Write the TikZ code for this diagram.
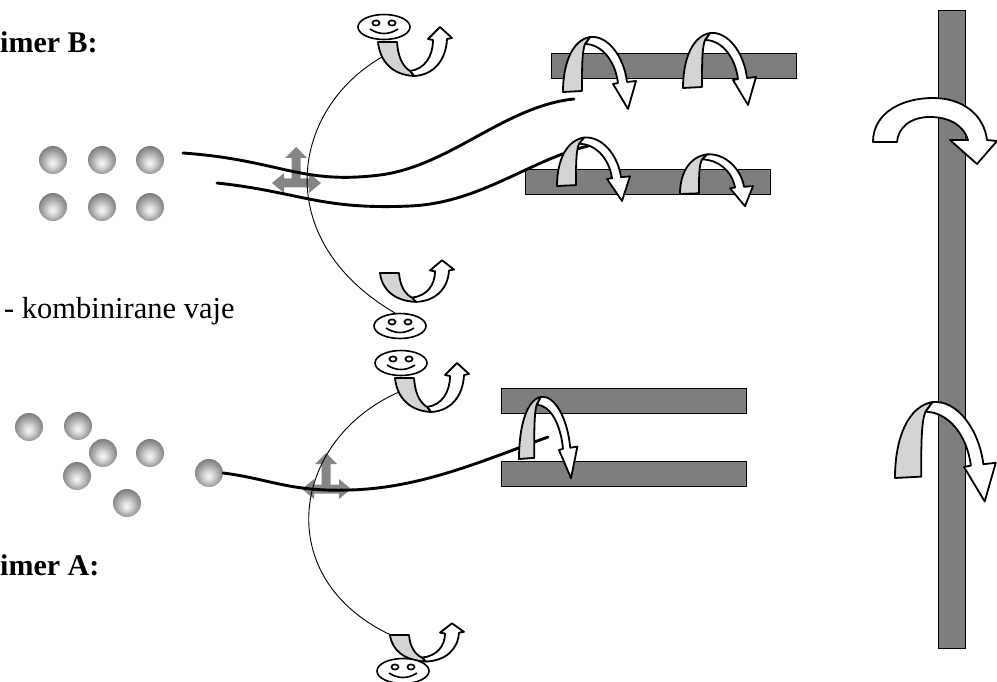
\documentclass[tikz,border=0pt]{standalone}
\usepackage{fontspec}
\setmainfont{Liberation Serif}
\definecolor{barfill}{HTML}{7E7E81}
\definecolor{backface}{HTML}{D3D4D6}
\definecolor{arrowgray}{HTML}{858585}
\definecolor{sph0}{HTML}{F7F7F7}
\definecolor{sph1}{HTML}{DADADA}
\definecolor{sph2}{HTML}{A8A8A8}
\definecolor{sph3}{HTML}{767676}
\pgfdeclareradialshading{sphere}{\pgfpoint{-1bp}{-6bp}}{%
  color(0bp)=(sph0); color(8bp)=(sph1); color(18bp)=(sph2);
  color(29bp)=(sph3); color(50bp)=(sph3)}

\tikzset{
  outline/.style={draw=black, line width=1.8pt, line join=round},
  barbox/.style={draw=black, line width=0.6pt, fill=barfill},
  path line/.style={line width=2.9pt, line cap=round},
  thin arc/.style={line width=0.9pt},
  ball/.style={circle, minimum size=28pt, inner sep=0pt, shade, shading=sphere},
  label big/.style={anchor=base west, inner sep=0pt, font=\bfseries\fontsize{30}{32}\selectfont},
  label small/.style={anchor=base west, inner sep=0pt, font=\fontsize{30.5}{32}\selectfont},
  % twisted ribbon arrow turning over a bar: grey back face up, white front face down
  pics/barribbon/.style={code={
    \path[outline, fill=white] (27,-55) .. controls (45,-57) and (61,-35) .. (64,-10)
      -- (73,-11) -- (65,17) -- (50,-8) -- (55,-9)
      .. controls (52,-32) and (38,-48) .. (22,-48) -- cycle;
    \path[outline, fill=backface] (0,0) -- (19,-1) .. controls (19,-25) and (19,-40) .. (22,-48)
      -- (27,-55) .. controls (10,-52) and (0,-30) .. (0,0) -- cycle;
  }},
  % small U-turn ribbon arrow next to a face
  pics/faceribbon/.style={code={
    \path[outline, fill=white] (36,34) .. controls (56,33) and (68,18) .. (69,-3)
      -- (74,-4) -- (62,-15) -- (50,-3) -- (55,-2)
      .. controls (55,14) and (47,27) .. (32,29) -- cycle;
    \path[outline, fill=backface] (0,0) -- (19,0) .. controls (20,14) and (24,24) .. (32,29)
      -- (36,34) .. controls (15,33) and (2,20) .. (0,0) -- cycle;
  }},
  pics/smiley/.style={code={
    \path[outline, line width=1.6pt, fill=white] (0,0) ellipse [x radius=26pt, y radius=12.5pt];
    \path[outline, line width=1.7pt] (-8,-4) ellipse [x radius=3.6pt, y radius=2.6pt]
      (8,-4) ellipse [x radius=3.6pt, y radius=2.6pt];
    \path[outline, line width=1.6pt] (-14,2) .. controls (-5,8) and (5,8) .. (14,2);
  }},
  % grey three-way arrow (up, left, right)
  pics/threeway/.style={code={
    \fill[arrowgray] (-4.5,-4.5) -- (-4.5,-25) -- (-11,-25) -- (0,-36) -- (11,-25) -- (4.5,-25)
      -- (4.5,-4.5) -- (13,-4.5) -- (13,-10) -- (25,0) -- (13,10) -- (13,4.5) -- (-12,4.5)
      -- (-12,10) -- (-24,0) -- (-12,-10) -- (-12,-4.5) -- cycle;
  }},
}

\begin{document}
\begin{tikzpicture}[x=1pt, y=-1pt]
\useasboundingbox (0,0) rectangle (997,682);

% bars
\path[barbox] (938,10) rectangle (965,648);
\path[barbox] (551,53) rectangle (796,78);
\path[barbox] (525,169) rectangle (770,194);
\path[barbox] (501,388) rectangle (746,413);
\path[barbox] (501,461) rectangle (746,486);

% three-way arrows
\pic at (296,183) {threeway};
\pic at (326,489) {threeway};

% spheres, example B
\node[ball] (b1) at (53,160) {};
\node[ball] (b2) at (102,160) {};
\node[ball] (b3) at (150,160) {};
\node[ball] (b4) at (53,207) {};
\node[ball] (b5) at (102,207) {};
\node[ball] (b6) at (150,207) {};
% spheres, example A
\node[ball] (a1) at (29,427) {};
\node[ball] (a2) at (78,426) {};
\node[ball] (a3) at (103,453) {};
\node[ball] (a4) at (150,453) {};
\node[ball] (a5) at (77,476) {};
\node[ball] (a6) at (127,503) {};
\node[ball] (a7) at (209,473) {};

% thick paths
\coordinate (b1s) at (183,153);
\coordinate (b1e) at (574,99);
\coordinate (b2s) at (217,183);
\coordinate (b2e) at (588,146);
\coordinate (ae) at (548,437);
\draw[path line] (b1s) .. controls (280,160) and (300,185) .. (380,175)
  .. controls (450,166) and (505,106) .. (b1e);
\draw[path line] (b2s) .. controls (300,192) and (320,210) .. (410,206)
  .. controls (480,203) and (530,160) .. (b2e);
\draw[path line] (a7.east) .. controls (270,479) and (290,492) .. (350,490)
  .. controls (420,488) and (480,462) .. (ae);

% thin arcs between the faces
\coordinate (s1a) at (382,57);
\coordinate (s2a) at (395,313);
\coordinate (s3a) at (399,392);
\coordinate (s4a) at (393,636);
\draw[thin arc] (s1a) .. controls (290,110) and (270,240) .. (s2a);
\draw[thin arc] (s3a) .. controls (290,440) and (270,580) .. (s4a);

% ribbon arrows on the bars
\pic at (563,92) {barribbon};
\pic at (683,88) {barribbon};
\pic[yscale=0.88] at (557,186) {barribbon};
\pic[yscale=0.72] at (680,194) {barribbon};
\pic[xscale=0.8, yscale=1.13] at (519,459) {barribbon};
\pic[scale=1.38] at (895,478) {barribbon};

% plain turning arrow over the vertical bar
\path[outline, fill=white] (873,142) .. controls (873,112) and (903,98) .. (933,98)
  .. controls (963,98) and (984,115) .. (987,140) -- (997,141) -- (977,164) -- (950,140)
  -- (968,140) .. controls (964,126) and (950,117) .. (930,117)
  .. controls (910,117) and (898,128) .. (897,142) -- cycle;

% faces with their ribbon arrows
\pic at (378,42) {faceribbon};
\pic[yscale=0.85] at (380,273) {faceribbon};
\pic at (395,378) {faceribbon};
\pic[yscale=0.78] at (390,635) {faceribbon};
\pic at (384,27) {smiley};
\pic at (400,326) {smiley};
\pic at (401,363) {smiley};
\pic at (403,671) {smiley};

% labels
\node[label big] (lb) at (0,53) {imer B:};
\node[label small] (lk) at (4,318) {- kombinirane vaje};
\node[label big] (la) at (0,575) {imer A:};
\end{tikzpicture}
\end{document}
